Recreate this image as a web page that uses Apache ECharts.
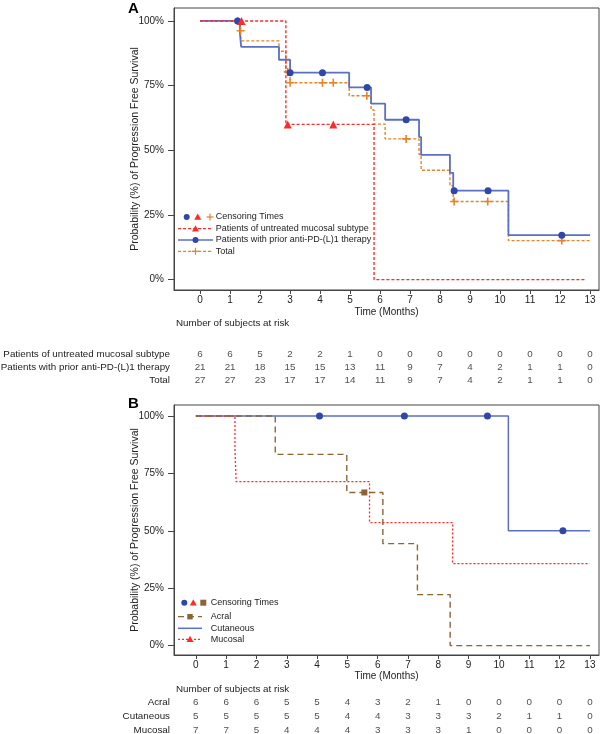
<!DOCTYPE html>
<html>
<head>
<meta charset="utf-8">
<script src="https://cdn.jsdelivr.net/npm/echarts@6/dist/echarts.min.js"></script>
<style>
  html, body { margin: 0; padding: 0; background: #fff; }
  #chart { width: 600px; height: 734px; }
</style>
</head>
<body>
<div id="chart"></div>
<script>
// ---- data ----
const months = [0, 1, 2, 3, 4, 5, 6, 7, 8, 9, 10, 11, 12, 13];
const yTicks = [0, 25, 50, 75, 100];

// Panel A, step curves (time of change, survival % after change)
const mucosalA_t = [0, 2.86, 5.8, 12.86];
const mucosalA_s = [100, 60, 0, 0];
const priorA_t = [0, 1.33, 1.37, 2.63, 3.0, 4.97, 5.7, 6.17, 7.3, 7.37, 8.33, 8.44, 10.28, 13];
const priorA_s = [100, 95, 90, 85, 80, 74.3, 68, 61.8, 55.1, 48.2, 41.3, 34.4, 17.2, 17.2];
const totalA_t = [0, 1.33, 1.37, 2.63, 2.86, 3.0, 4.97, 5.7, 5.8, 6.17, 7.3, 7.37, 8.33, 8.44, 10.28, 13];
const totalA_s = [100, 96.2, 92.3, 88.3, 80.3, 76.1, 71.1, 65.6, 60.1, 54.4, 48.4, 42.3, 36.3, 30.2, 15.1, 15.1];

// Panel A, censoring marks [time, survival]
const mucosalA_cens = [[1.38, 100], [2.92, 60], [4.44, 60]];
const priorA_cens = [[1.25, 100], [3.0, 80], [4.08, 80], [5.57, 74.3], [6.87, 61.8], [8.47, 34.4], [9.6, 34.4], [12.06, 17.2]];
const totalA_cens = [[1.25, 100], [1.35, 96.2], [2.92, 80.3], [3.0, 76.1], [4.08, 76.1], [4.44, 76.1], [5.56, 71.1], [6.87, 54.4], [8.47, 30.2], [9.59, 30.2], [12.06, 15.1]];

// Panel A, number at risk
const riskRowsA = ['Patients of untreated mucosal subtype', 'Patients with prior anti-PD-(L)1 therapy', 'Total'];
const riskMucosalA = [6, 6, 5, 2, 2, 1, 0, 0, 0, 0, 0, 0, 0, 0];
const riskPriorA = [21, 21, 18, 15, 15, 13, 11, 9, 7, 4, 2, 1, 1, 0];
const riskTotalA = [27, 27, 23, 17, 17, 14, 11, 9, 7, 4, 2, 1, 1, 0];

// Panel B, step curves
const acral_t = [0, 2.62, 4.98, 6.17, 7.31, 8.39, 13];
const acral_s = [100, 83.3, 66.7, 44.4, 22.2, 0, 0];
const cutaneous_t = [0, 10.31, 13];
const cutaneous_s = [100, 50, 50];
const mucosalB_t = [0, 1.29, 1.33, 5.73, 8.47, 12.99];
const mucosalB_s = [100, 85.7, 71.4, 53.6, 35.7, 35.7];

// Panel B, censoring marks
const acral_cens = [[5.56, 66.7]];
const cutaneous_cens = [[4.08, 100], [6.88, 100], [9.62, 100], [12.11, 50]];

// Panel B, number at risk
const riskRowsB = ['Acral', 'Cutaneous', 'Mucosal'];
const riskAcral = [6, 6, 6, 5, 5, 4, 3, 2, 1, 0, 0, 0, 0, 0];
const riskCutaneous = [5, 5, 5, 5, 5, 4, 4, 3, 3, 3, 2, 1, 1, 0];
const riskMucosalB = [7, 7, 5, 4, 4, 4, 3, 3, 3, 1, 0, 0, 0, 0];

// ---- styling ----
const FONT = 'Liberation Sans, Arial, sans-serif';
const RED = '#ff2b2b';
const BLUE_LINE = '#5b6fc4';
const BLUE_DOT = '#2f47a6';
const ORANGE = '#e8832a';
const BROWN = '#8b6536';
const TXT = '#222';
const PLUS = 'path://M4,0 H6 V4 H10 V6 H6 V10 H4 V6 H0 V4 H4 Z';
const TICK_FS = 10;
const NAME_FS = 10;
const YNAME_FS = 10.5;
const LEG_FS = 9;
const RISK_FS = 9.8;

const xRangeA = { min: -0.87, max: 13.3 };
const xRangeB = { min: -0.72, max: 13.3 };

function plotX(gridIndex, range, nameGap, margin) {
  return {
    gridIndex: gridIndex, type: 'value', min: range.min, max: range.max,
    name: 'Time (Months)', nameLocation: 'middle', nameGap: nameGap, nameMoveOverlap: false,
    nameTextStyle: { fontFamily: FONT, fontSize: NAME_FS, color: TXT },
    axisLine: { show: true, onZero: false, lineStyle: { color: '#444', width: 1 } },
    axisTick: { show: true, length: 4, customValues: months, lineStyle: { color: '#444' } },
    axisLabel: { show: true, customValues: months, margin: margin, fontFamily: FONT, fontSize: TICK_FS, color: TXT },
    splitLine: { show: false }
  };
}

function plotY(gridIndex, min, max) {
  return {
    gridIndex: gridIndex, type: 'value', min: min, max: max,
    name: 'Probability (%) of Progression Free Survival', nameLocation: 'middle', nameGap: 33, nameMoveOverlap: false,
    nameTextStyle: { fontFamily: FONT, fontSize: YNAME_FS, color: TXT },
    axisLine: { show: true, onZero: false, lineStyle: { color: '#444', width: 1 } },
    axisTick: { show: true, length: 6, customValues: yTicks, lineStyle: { color: '#444' } },
    axisLabel: { show: true, customValues: yTicks, margin: 10, formatter: '{value}%', fontFamily: FONT, fontSize: TICK_FS, color: TXT },
    splitLine: { show: false }
  };
}

function riskX(gridIndex, range) {
  return { gridIndex: gridIndex, type: 'value', min: range.min, max: range.max, show: false };
}

function riskY(gridIndex, rows) {
  return {
    gridIndex: gridIndex, type: 'category', data: rows, inverse: true,
    axisLine: { show: false }, axisTick: { show: false }, splitLine: { show: false },
    axisLabel: { interval: 0, margin: 4, fontFamily: FONT, fontSize: RISK_FS, color: TXT }
  };
}

function step(name, times, surv, color, type, width, axis) {
  return {
    name: name, type: 'line', step: 'end', xAxisIndex: axis, yAxisIndex: axis,
    data: times.map((t, i) => [t, surv[i]]),
    showSymbol: false, symbol: 'none',
    lineStyle: { color: color, width: width, type: type },
    z: 2
  };
}

function cens(data, symbol, size, color, axis) {
  return {
    type: 'scatter', xAxisIndex: axis, yAxisIndex: axis, data: data,
    symbol: symbol, symbolSize: size, itemStyle: { color: color, opacity: 1 }, z: 4
  };
}

function risk(values, row, axis) {
  return {
    type: 'scatter', xAxisIndex: axis, yAxisIndex: axis,
    data: months.map((m, i) => [m, row, values[i]]),
    symbolSize: 1, itemStyle: { color: 'transparent' },
    label: { show: true, position: 'inside', formatter: p => String(p.value[2]), fontFamily: FONT, fontSize: RISK_FS, color: TXT }
  };
}

// legend drawn as graphics (layout only)
function legendLine(x1, x2, y, color, dash, width) {
  return { type: 'line', shape: { x1: x1, y1: y, x2: x2, y2: y }, style: { stroke: color, lineWidth: width, lineDash: dash } };
}
function legendText(x, y, text) {
  return { type: 'text', x: x, y: y, style: { text: text, fill: TXT, font: LEG_FS + 'px ' + FONT, textVerticalAlign: 'middle' } };
}
function circle(cx, cy, r, color) {
  return { type: 'circle', shape: { cx: cx, cy: cy, r: r }, style: { fill: color } };
}
function tri(cx, cy, s, color) {
  return { type: 'polygon', shape: { points: [[cx, cy - s], [cx + s, cy + s * 0.8], [cx - s, cy + s * 0.8]] }, style: { fill: color } };
}
function plus(cx, cy, s, color) {
  return { type: 'group', children: [
    { type: 'line', shape: { x1: cx - s, y1: cy, x2: cx + s, y2: cy }, style: { stroke: color, lineWidth: 1.2 } },
    { type: 'line', shape: { x1: cx, y1: cy - s, x2: cx, y2: cy + s }, style: { stroke: color, lineWidth: 1.2 } }
  ] };
}
function square(cx, cy, s, color) {
  return { type: 'rect', shape: { x: cx - s, y: cy - s, width: 2 * s, height: 2 * s }, style: { fill: color } };
}

const graphics = [
  { type: 'text', x: 128, y: 1, style: { text: 'A', fill: '#000', font: 'bold 15px ' + FONT } },
  { type: 'text', x: 128, y: 396, style: { text: 'B', fill: '#000', font: 'bold 15px ' + FONT } },
  { type: 'text', x: 176, y: 323, style: { text: 'Number of subjects at risk', fill: TXT, font: RISK_FS + 'px ' + FONT, textVerticalAlign: 'middle' } },
  { type: 'text', x: 176, y: 689, style: { text: 'Number of subjects at risk', fill: TXT, font: RISK_FS + 'px ' + FONT, textVerticalAlign: 'middle' } },

  // legend A
  circle(186.7, 217, 3, BLUE_DOT), tri(197.7, 217, 3.5, RED), plus(210, 217, 3.5, ORANGE),
  legendText(215.7, 217, 'Censoring Times'),
  legendLine(178, 213, 228.7, RED, [3, 2], 1.3), tri(195.5, 228.7, 3.5, RED),
  legendText(215.7, 228.7, 'Patients of untreated mucosal subtype'),
  legendLine(178, 213, 240, BLUE_LINE, null, 1.5), circle(195.5, 240, 3, BLUE_DOT),
  legendText(215.7, 240, 'Patients with prior anti-PD-(L)1 therapy'),
  legendLine(178, 213, 251.3, ORANGE, [3, 2], 1.3), plus(195.5, 251.3, 3.5, ORANGE),
  legendText(215.7, 251.3, 'Total'),

  // legend B
  circle(184.3, 602.7, 3, BLUE_DOT), tri(193.3, 602.7, 3.5, RED), square(203.3, 602.7, 3, BROWN),
  legendText(210.7, 602.7, 'Censoring Times'),
  legendLine(178, 202, 616.7, BROWN, [6, 4], 1.3), square(190, 616.7, 2.7, BROWN),
  legendText(210.7, 616.7, 'Acral'),
  legendLine(178, 202, 628.3, BLUE_LINE, null, 1.5),
  legendText(210.7, 628.3, 'Cutaneous'),
  legendLine(178, 202, 639.3, RED, [2, 2], 1.3), tri(190, 639.3, 3.5, RED),
  legendText(210.7, 639.3, 'Mucosal')
];

const option = {
  animation: false,
  backgroundColor: '#fff',
  grid: [
    { left: 174, top: 8, width: 425, height: 282, show: true, borderColor: '#444', borderWidth: 1, outerBoundsMode: 'none' },
    { left: 174, top: 347.5, width: 425, height: 39, outerBoundsMode: 'none' },
    { left: 174, top: 405, width: 425, height: 250, show: true, borderColor: '#444', borderWidth: 1, outerBoundsMode: 'none' },
    { left: 174, top: 695, width: 425, height: 42, outerBoundsMode: 'none' }
  ],
  xAxis: [
    plotX(0, xRangeA, 17, 5),
    riskX(1, xRangeA),
    plotX(2, xRangeB, 16, 5),
    riskX(3, xRangeB)
  ],
  yAxis: [
    plotY(0, -4, 105),
    riskY(1, riskRowsA),
    plotY(2, -4.1, 104.8),
    riskY(3, riskRowsB)
  ],
  graphic: graphics,
  series: [
    step('Total', totalA_t, totalA_s, ORANGE, [3, 2], 1.4, 0),
    step('Patients with prior anti-PD-(L)1 therapy', priorA_t, priorA_s, BLUE_LINE, 'solid', 1.8, 0),
    step('Patients of untreated mucosal subtype', mucosalA_t, mucosalA_s, RED, [3, 2], 1.4, 0),
    cens(totalA_cens, PLUS, 8, ORANGE, 0),
    cens(priorA_cens, 'circle', 7, BLUE_DOT, 0),
    cens(mucosalA_cens, 'triangle', 8, RED, 0),

    risk(riskMucosalA, 0, 1),
    risk(riskPriorA, 1, 1),
    risk(riskTotalA, 2, 1),

    step('Cutaneous', cutaneous_t, cutaneous_s, BLUE_LINE, 'solid', 1.5, 2),
    step('Mucosal', mucosalB_t, mucosalB_s, RED, [2, 2], 1.3, 2),
    step('Acral', acral_t, acral_s, BROWN, [6, 4], 1.4, 2),
    cens(cutaneous_cens, 'circle', 7, BLUE_DOT, 2),
    cens(acral_cens, 'rect', 6, BROWN, 2),

    risk(riskAcral, 0, 3),
    risk(riskCutaneous, 1, 3),
    risk(riskMucosalB, 2, 3)
  ]
};

const chart = echarts.init(document.getElementById('chart'), null, { renderer: 'canvas' });
chart.setOption(option);
</script>
</body>
</html>
